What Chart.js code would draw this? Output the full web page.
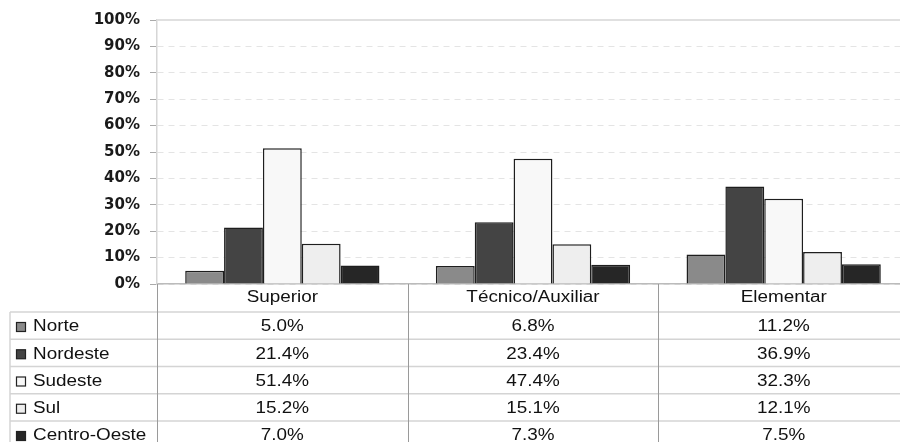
<!DOCTYPE html>
<html>
<head>
<meta charset="utf-8">
<script src="https://cdn.jsdelivr.net/npm/chart.js@4"></script>
<style>
  body { margin: 0; background: #fff; overflow: hidden; }
  #wrap { width: 909px; height: 442px; }
</style>
</head>
<body>
<div id="wrap"><canvas id="myChart"></canvas></div>
<script>
const categories = ["Superior", "Técnico/Auxiliar", "Elementar"];
const regions = ["Norte", "Nordeste", "Sudeste", "Sul", "Centro-Oeste"];
const norte = [5.0, 6.8, 11.2];
const nordeste = [21.4, 23.4, 36.9];
const sudeste = [51.4, 47.4, 32.3];
const sul = [15.2, 15.1, 12.1];
const centroOeste = [7.0, 7.3, 7.5];
const yTicks = [0, 10, 20, 30, 40, 50, 60, 70, 80, 90, 100];

const fills = ["#8a8a8a", "#444444", "#f8f8f8", "#eeeeee", "#262626"];
const series = [norte, nordeste, sudeste, sul, centroOeste];

// draws the data table under the plot, using the x scale for the columns
const tablePlugin = {
  id: "table",
  afterDraw(chart) {
    const c = chart.ctx;
    const x = chart.scales.x;
    const area = chart.chartArea;
    const H = chart.height;
    const colW = x.width / categories.length;
    const rowTop = area.bottom + 28;
    const rowH = 27.25;
    const font = "16px 'Liberation Sans', Arial, sans-serif";

    function text(s, px, py, align) {
      c.save();
      c.font = font;
      c.fillStyle = "#111";
      c.textBaseline = "middle";
      c.textAlign = align;
      c.translate(px, py);
      c.scale(1.18, 1);
      c.fillText(s, 0, 0);
      c.restore();
    }

    c.save();
    // top border of the plot
    c.strokeStyle = "#e0e0e0";
    c.lineWidth = 2;
    c.beginPath();
    c.moveTo(area.left, area.top);
    c.lineTo(area.right, area.top);
    c.stroke();

    // horizontal row lines
    c.strokeStyle = "#d4d4d4";
    c.lineWidth = 1.5;
    for (let r = 0; r < regions.length; r++) {
      const ly = rowTop + r * rowH;
      c.beginPath();
      c.moveTo(10, ly);
      c.lineTo(area.right, ly);
      c.stroke();
    }
    c.beginPath();
    c.moveTo(10, rowTop);
    c.lineTo(10, H);
    c.stroke();

    // column separators
    c.strokeStyle = "#9a9a9a";
    c.lineWidth = 1;
    for (let i = 0; i < categories.length; i++) {
      const lx = Math.round(x.getPixelForValue(i) - colW / 2) + 0.5;
      c.beginPath();
      c.moveTo(lx, area.bottom);
      c.lineTo(lx, H);
      c.stroke();
    }
    c.restore();

    categories.forEach((cat, i) => {
      text(cat, x.getPixelForValue(i), area.bottom + 14, "center");
    });

    regions.forEach((name, r) => {
      const cy = rowTop + r * rowH + 15;
      c.save();
      c.fillStyle = fills[r];
      c.strokeStyle = "#222";
      c.lineWidth = 1.2;
      c.fillRect(16.5, cy - 4.5, 9, 9);
      c.strokeRect(16.5, cy - 4.5, 9, 9);
      c.restore();
      text(name, 33, cy, "left");
      series[r].forEach((v, i) => {
        text(v.toFixed(1) + "%", x.getPixelForValue(i), cy, "center");
      });
    });
  },
};

const ctx = document.getElementById("myChart");

new Chart(ctx, {
  type: "bar",
  data: {
    labels: categories,
    datasets: regions.map((name, r) => ({
      label: name,
      data: series[r],
      backgroundColor: fills[r],
      borderColor: "#1e1e1e",
      borderWidth: 1.5,
      categoryPercentage: 0.775,
      barPercentage: 1.0,
    })),
  },
  options: {
    responsive: true,
    maintainAspectRatio: false,
    animation: false,
    layout: {
      padding: { top: 20, bottom: 158, left: 0, right: 0 },
    },
    plugins: {
      legend: { display: false },
      tooltip: { enabled: false },
    },
    scales: {
      x: {
        ticks: { display: false },
        grid: { display: false, drawTicks: false },
        border: { display: true, color: "#bbbbbb", width: 1.5 },
      },
      y: {
        min: 0,
        max: 100,
        afterFit(scale) {
          scale.width = 157;
        },
        afterBuildTicks(scale) {
          scale.ticks = yTicks.map((v) => ({ value: v }));
        },
        ticks: {
          padding: 10,
          color: "#1a1a1a",
          font: { family: "'DejaVu Sans', 'Liberation Sans', sans-serif", size: 15, weight: "bold" },
          callback: (v) => v + "%",
        },
        grid: {
          color: "#e4e4e4",
          lineWidth: 1,
          tickLength: 7,
          tickColor: "#aaaaaa",
        },
        border: { display: true, color: "#d6d6d6", width: 1.5, dash: [6, 5] },
      },
    },
  },
  plugins: [tablePlugin],
});
</script>
</body>
</html>
